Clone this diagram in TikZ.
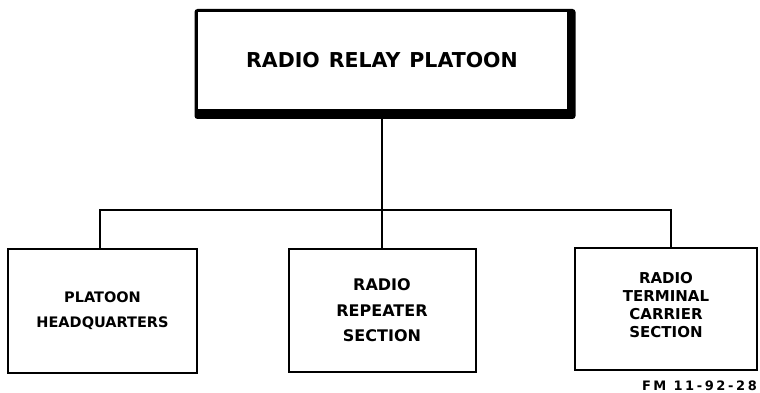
\documentclass[tikz,border=0pt]{standalone}
\usepackage{fontspec}
\setmainfont{DejaVu Sans}
\newfontfamily\lettering{DejaVu Sans}
\newfontfamily\figfont{DejaVu Sans}[LetterSpace=20.0]
\usetikzlibrary{backgrounds}
\tikzset{
  unitbox/.style={draw, line width=2pt, fill=white, align=center, inner sep=0pt,
    font=\lettering\bfseries},
  link/.style={line width=2.4pt, line join=miter},
}
\begin{document}
\begin{tikzpicture}[x=1pt,y=-1pt]
\useasboundingbox (0,0) rectangle (760,393);
% top box
\node[unitbox, minimum width=371pt, minimum height=99pt, font=\lettering\bfseries\fontsize{20.5}{24}\selectfont]
  (top) at (382,60.5) {RADIO\hspace{9pt}RELAY\hspace{9pt}PLATOON};
\begin{scope}[on background layer]
  \fill[white] (0,0) rectangle (760,393);
  \fill[black, rounded corners=3pt] ([shift={(-1,-1)}]top.north west) rectangle ([shift={(7,8)}]top.south east);
\end{scope}
% bottom boxes
\node[unitbox, minimum width=189pt, minimum height=124pt, font=\lettering\bfseries\fontsize{14.5}{25}\selectfont]
  (hq) at (102.5,311) {PLATOON\\HEADQUARTERS};
\node[unitbox, minimum width=187pt, minimum height=123pt, font=\lettering\bfseries\fontsize{16}{25.5}\selectfont]
  (rep) at (382,310.5) {RADIO\\REPEATER\\SECTION};
\node[unitbox, minimum width=182pt, minimum height=122pt, font=\lettering\bfseries\fontsize{15}{18}\selectfont]
  (term) at (666,309) {RADIO\\TERMINAL\\CARRIER\\SECTION\\[-9pt]};
% connectors
\coordinate (topfoot) at ([yshift=-8pt]top.south);
\coordinate (hqtop) at ([xshift=-2.5pt]hq.north);
\coordinate (termtop) at ([xshift=5pt]term.north);
\coordinate (busL) at (hqtop |- 0,210);
\coordinate (busR) at (termtop |- 0,210);
\draw[link] (topfoot) -- (rep.north);
\draw[link] (hqtop) -- (busL) -- (busR) -- (termtop);
% figure number
\node[anchor=base east, inner sep=0pt, font=\figfont\bfseries\fontsize{13}{15}\selectfont]
  (fig) at (757,390) {FM 11-92-28};
\end{tikzpicture}
\end{document}
